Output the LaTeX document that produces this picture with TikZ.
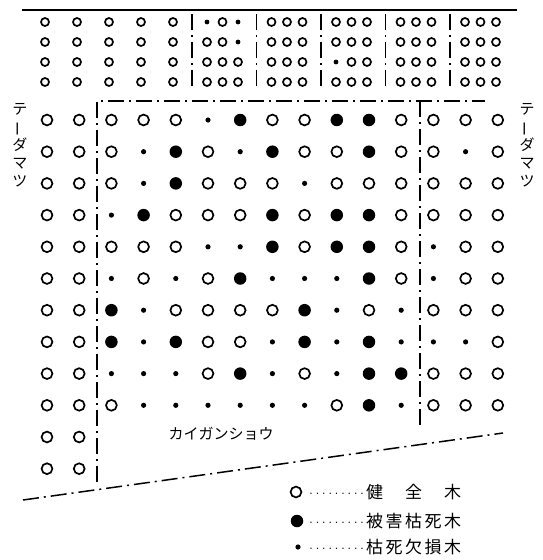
\documentclass[tikz,border=0pt]{standalone}
\usepackage{fontspec}
\usepackage{graphicx}
\newfontfamily\cjk{Noto Sans CJK JP}
\usetikzlibrary{positioning}

\begin{document}
\begin{tikzpicture}[x=1pt, y=-1pt,
    tr-o/.style={draw, circle, line width=1.7pt, minimum size=10.8pt, inner sep=0pt},
    tr-f/.style={fill, circle, minimum size=12.5pt, inner sep=0pt},
    tr-d/.style={fill, circle, minimum size=5.2pt, inner sep=0pt},
    sm-o/.style={draw, circle, line width=1.7pt, minimum size=8pt, inner sep=0pt},
    sm-d/.style={fill, circle, minimum size=4.8pt, inner sep=0pt},
    plotline/.style={line width=1.5pt, dash pattern=on 16pt off 5pt on 2pt off 5pt},
    lbl/.style={font=\cjk\fontsize{15}{18}\selectfont, inner sep=0pt},
    key/.style={font=\fontsize{17}{18}\selectfont, inner sep=0pt},
]
\useasboundingbox (0,0) rectangle (543,560);

% Frame of the plot
\coordinate (top-l) at (22,10);
\coordinate (top-r) at (517,10);
\coordinate (fr-tl) at (97,101);
\coordinate (fr-tr) at (485,101);
\coordinate (fr-bl) at (97,482);
\coordinate (sep-t) at (420,101);
\coordinate (sep-b) at (420,427);
\coordinate (sh-l) at (23,500);
\coordinate (sh-r) at (503,433);

\draw[line width=2.2pt] (top-l) -- (top-r);
\draw[plotline] (fr-bl) -- (fr-tl) -- (fr-tr);
\draw[plotline] (sep-t) -- (sep-b);
\draw[plotline] (sh-l) -- (sh-r);

% Upper strip: five single rows, then blocks of three
\foreach \g in {0,...,4}
    \draw[plotline] (192+64.5*\g,14) -- (192+64.5*\g,90);
\foreach \r in {1,...,4}
    \foreach \c in {1,...,5}
        \node[sm-o] (s\r-\c) at ({45+32*(\c-1)}, {22+20*(\r-1)}) {};
\foreach \row [count=\r] in {
    {d,o,d,o,o,o,o,o,o,o,o,o,o,o,o},
    {o,o,d,o,o,o,o,o,o,o,o,o,o,o,o},
    {o,o,o,o,o,o,d,o,o,o,o,o,o,o,o},
    {o,o,o,o,o,o,o,o,o,o,o,o,o,o,o}} {
    \foreach \t [count=\c] in \row {
        \pgfmathsetmacro\gx{207+64.5*int((\c-1)/3)+15.5*mod(\c-1,3)}
        \node[sm-\t] (g\r-\c) at (\gx, {22+20*(\r-1)}) {};
    }
}

% Main plot
\foreach \row [count=\r] in {
    {o,o,o,o,o,d,f,o,o,f,f,o,o,o,o},
    {o,o,o,d,f,o,d,f,o,o,f,o,o,d,o},
    {o,o,o,d,f,o,o,o,d,o,o,o,o,o,o},
    {o,o,d,f,o,o,o,f,o,f,f,o,o,o,o},
    {o,o,o,o,o,d,d,f,o,f,f,o,d,o,o},
    {o,o,d,o,d,o,f,d,d,d,f,o,d,o,o},
    {o,o,f,d,o,o,o,o,f,d,o,d,o,o,o},
    {o,o,f,d,f,o,o,d,f,d,f,d,d,d,o},
    {o,o,d,d,d,o,f,d,o,d,f,f,o,o,o},
    {o,o,o,d,d,d,d,d,d,o,f,d,o,o,o},
    {o,o},
    {o,o}} {
    \foreach \t [count=\c] in \row
        \node[tr-\t] (t\r-\c) at ({47+32.2*(\c-1)}, {120+31.7*(\r-1)}) {};
}

% Labels
\node[lbl, align=center] (tada-l) at (20,145) {テ\\\rotatebox[origin=c]{90}{ー}\\ダ\\マ\\ツ};
\node[lbl, align=center] (tada-r) at (527,145) {テ\\\rotatebox[origin=c]{90}{ー}\\ダ\\マ\\ツ};
\node[lbl] (shore) at (221,434) {カイガンショウ};

% Legend
\node[tr-o] (key-o) at (296,492) {};
\node[tr-f] (key-f) at (297,521) {};
\node[tr-d] (key-d) at (298,547) {};
\node[key, anchor=west] (txt-o) at (307,492) {\raisebox{4pt}{\fontsize{14.5}{16}\selectfont\makebox[59pt]{\dotfill}}{\cjk\makebox[95pt]{健\hfill 全\hfill 木}}};
\node[key, anchor=west] (txt-f) at (307,521) {\raisebox{4pt}{\fontsize{14.5}{16}\selectfont\makebox[59pt]{\dotfill}}{\cjk\makebox[95pt]{被\hfill 害\hfill 枯\hfill 死\hfill 木}}};
\node[key, anchor=west] (txt-d) at (307,547) {\raisebox{4pt}{\fontsize{14.5}{16}\selectfont\makebox[59pt]{\dotfill}}{\cjk\makebox[95pt]{枯\hfill 死\hfill 欠\hfill 損\hfill 木}}};
\end{tikzpicture}
\end{document}
